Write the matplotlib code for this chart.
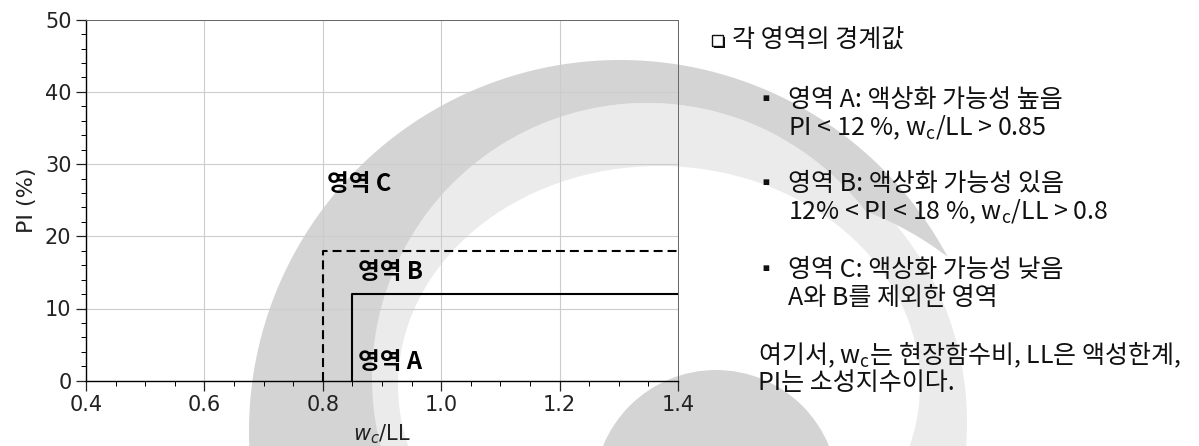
import numpy as np
import matplotlib
matplotlib.use("Agg")
import matplotlib.pyplot as plt
from matplotlib.patches import Circle, Ellipse, Polygon, Rectangle
from matplotlib.ticker import MultipleLocator

# ---------------- data ----------------
zone_a_x = [0.85, 0.85, 1.4]     # solid boundary (zone A)
zone_a_y = [0.0, 12.0, 12.0]
zone_b_x = [0.8, 0.8, 1.4]       # dashed boundary (zone B)
zone_b_y = [0.0, 18.0, 18.0]
zone_labels = ["영역 A", "영역 B", "영역 C"]
zone_label_x = [0.86, 0.86, 0.807]
zone_label_y = [2.6, 15.0, 27.2]
x_ticks = [0.4, 0.6, 0.8, 1.0, 1.2, 1.4]
y_ticks = [0, 10, 20, 30, 40, 50]

title_text = "각 영역의 경계값"
items = [
    ("영역 A: 액상화 가능성 높음", r"PI < 12 %, $\mathrm{w_c}$/LL > 0.85"),
    ("영역 B: 액상화 가능성 있음", r"12% < PI < 18 %, $\mathrm{w_c}$/LL > 0.8"),
    ("영역 C: 액상화 가능성 낮음", "A와 B를 제외한 영역"),
]
note_lines = [r"여기서, $\mathrm{w_c}$는 현장함수비, LL은 액성한계,", "PI는 소성지수이다."]

# ---------------- style ----------------
plt.rcParams['mathtext.fontset'] = 'custom'
plt.rcParams['mathtext.rm'] = 'Noto Sans CJK KR'
plt.rcParams['mathtext.it'] = 'DejaVu Sans:italic'
plt.rcParams['font.family'] = ['DejaVu Sans']

W, H = 1199, 446
fig = plt.figure(figsize=(W / 100, H / 100), dpi=100)
fig.patch.set_facecolor('white')

# background watermark layer (pixel coordinates)
bg = fig.add_axes([0, 0, 1, 1], zorder=0)
bg.set_xlim(0, W)
bg.set_ylim(H, 0)
bg.axis('off')
DARK = '#d4d4d4'
LIGHT = '#ebebeb'
cD = (647, 378)
RD = 275
cA = (620, 431)
RA = 371
bg.add_patch(Circle((657, 422), 310, color=LIGHT, lw=0, zorder=1))
bg.add_patch(Circle(cD, RD, color=LIGHT, lw=0, zorder=1))
bg.add_patch(Ellipse((659, 385), 2 * 261, 2 * 219, color='white', lw=0, zorder=2))
th = np.radians(np.linspace(28, 205, 400))
ux, uy = np.cos(th), -np.sin(th)
dx, dy = cA[0] - cD[0], cA[1] - cD[1]
b = ux * dx + uy * dy
c = dx * dx + dy * dy - RD * RD
rD = -b + np.sqrt(b * b - c)
thick = np.clip(np.minimum(RA - rD, 3.0 * (np.degrees(th) - 28)), 0, None)
rin = RA - thick
outer = np.column_stack([cA[0] + RA * ux, cA[1] + RA * uy])
inner = np.column_stack([cA[0] + rin * ux, cA[1] + rin * uy])[::-1]
bg.add_patch(Polygon(np.vstack([outer, inner]), closed=True, color=DARK, lw=0, zorder=3))
bg.add_patch(Circle((716, 492), 122, color=DARK, lw=0, zorder=3))

# right-hand text
KR = ['Noto Sans CJK KR', 'DejaVu Sans']
FS = 18
TC = '#111111'
# shadowed box marker of the heading
bg.add_patch(Rectangle((714, 36.5), 11, 11, facecolor=TC, edgecolor='none', zorder=5))
bg.add_patch(Rectangle((712, 34.5), 11, 11, facecolor='white', edgecolor=TC, lw=1.0, zorder=6))
bg.text(732, 40, title_text, fontsize=FS, family=KR, va='center', ha='left', zorder=6, color=TC)
item_y = [100, 184, 270]
for (l1, l2), yy in zip(items, item_y):
    bg.text(755, yy, "▪", fontsize=15, family=KR, va='center', ha='left', zorder=6, color=TC)
    bg.text(788, yy, l1, fontsize=FS, family=KR, va='center', ha='left', zorder=6, color=TC)
    bg.text(788, yy + 28, l2, fontsize=FS, family=KR, va='center', ha='left', zorder=6, color=TC)
for i, ln in enumerate(note_lines):
    bg.text(758, 355 + 28 * i, ln, fontsize=FS, family=KR, va='center', ha='left', zorder=6, color=TC)

# ---------------- main chart ----------------
ax = fig.add_axes([86 / W, 1 - 380.7 / H, (678 - 86) / W, (380.7 - 19.7) / H], zorder=1)
ax.set_facecolor('none')
ax.plot(zone_b_x, zone_b_y, color='black', lw=1.5, ls=(0, (4.3, 2.4)), zorder=3)
ax.plot(zone_a_x, zone_a_y, color='black', lw=1.5, zorder=3)
for lab, lx, ly in zip(zone_labels, zone_label_x, zone_label_y):
    ax.text(lx, ly, lab, fontsize=17, fontweight='bold', family=KR, va='center', ha='left', zorder=4)

ax.set_xlim(0.4, 1.4)
ax.set_ylim(0, 50)
ax.set_xticks(x_ticks)
ax.set_yticks(y_ticks)
ax.set_xticklabels([f"{v:.1f}" for v in x_ticks])
ax.set_yticklabels([str(v) for v in y_ticks])
ax.xaxis.set_minor_locator(MultipleLocator(0.05))
ax.yaxis.set_minor_locator(MultipleLocator(2))
ax.tick_params(which='major', length=7, width=0.9, labelsize=15, colors='#222', direction='out')
ax.tick_params(which='minor', length=3.5, width=0.7, direction='out')
ax.grid(True, which='major', color='#cccccc', lw=0.8, zorder=0)
for s in ['top', 'right']:
    ax.spines[s].set_color('#666666')
    ax.spines[s].set_linewidth(0.7)
for s in ['left', 'bottom']:
    ax.spines[s].set_color('black')
    ax.spines[s].set_linewidth(1.0)
ax.set_xlabel(r"$w_c$/LL", fontsize=15, labelpad=5, color='#222')
ax.set_ylabel("PI (%)", fontsize=16, labelpad=6, color='#222')

fig.savefig("out.png", dpi=100)
